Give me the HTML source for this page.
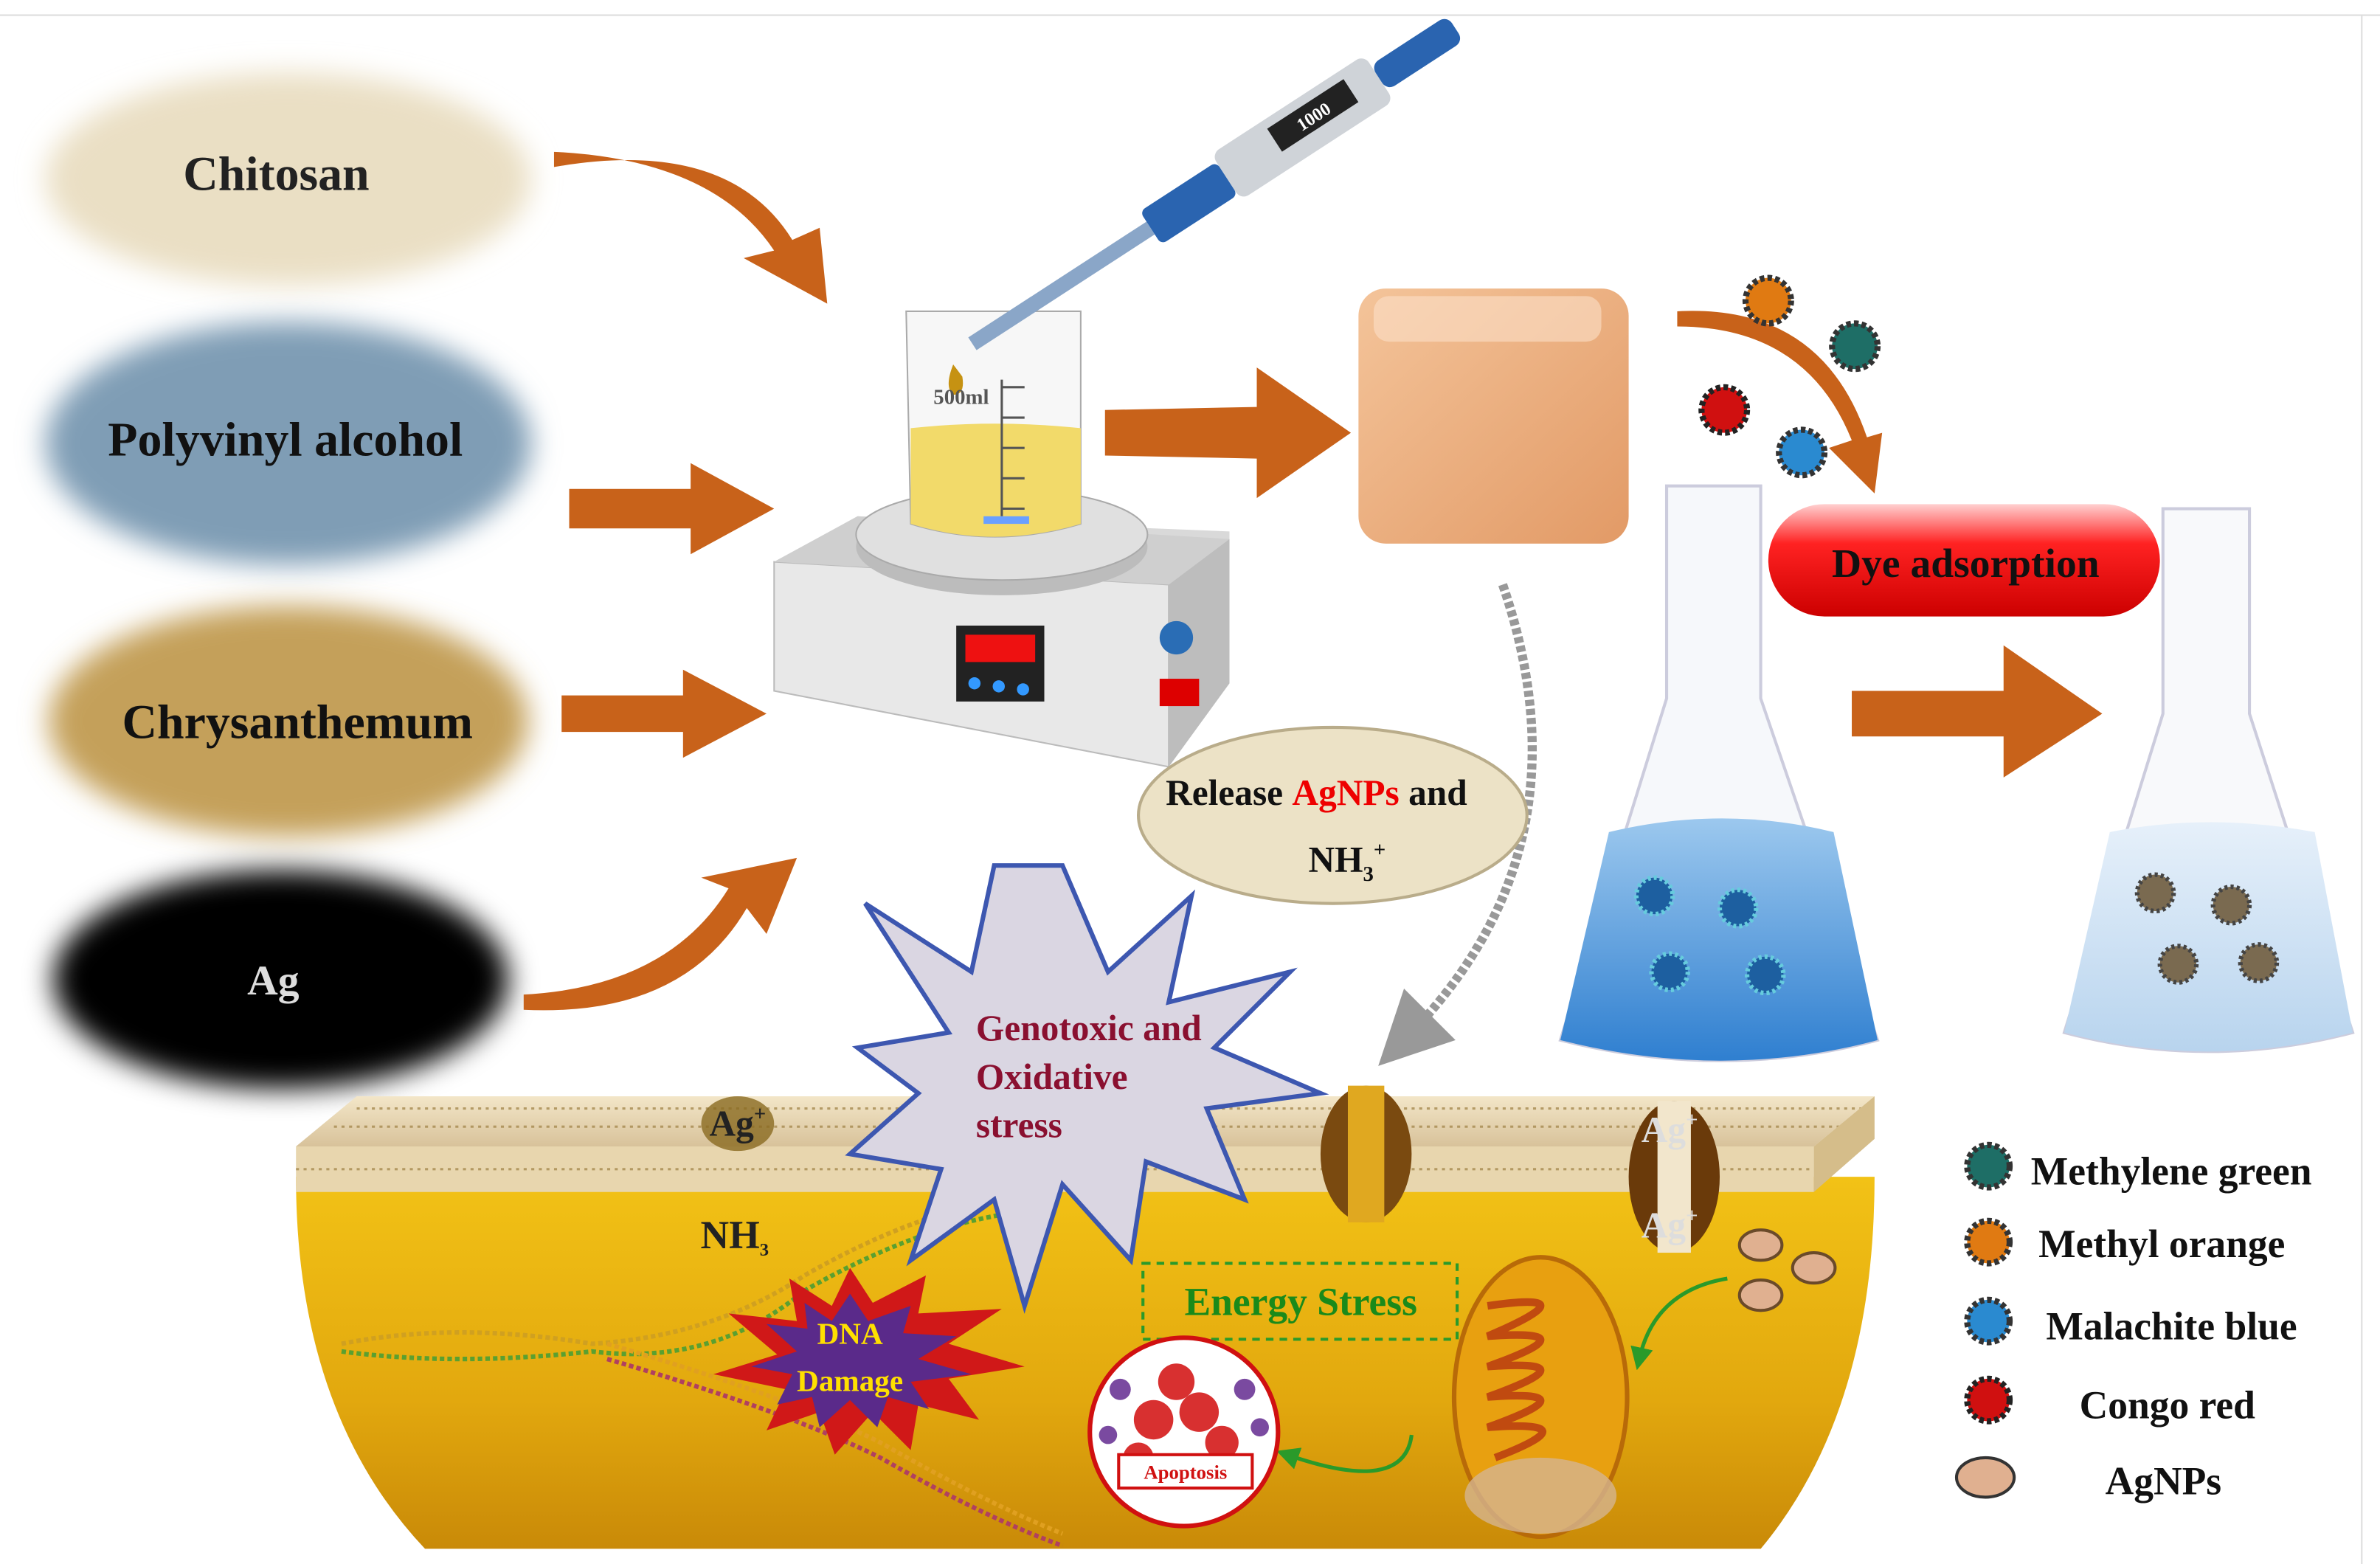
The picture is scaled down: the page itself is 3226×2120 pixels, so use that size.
<!DOCTYPE html>
<html><head><meta charset="utf-8"><style>
html,body{margin:0;padding:0;background:#fff;width:3226px;height:2120px;overflow:hidden}
svg{display:block}
text{font-family:"Liberation Serif",serif;font-weight:bold}
</style></head><body>
<svg width="3226" height="2120" viewBox="0 0 1568 1030" preserveAspectRatio="none" xmlns="http://www.w3.org/2000/svg">
<defs>
<filter id="blur" x="-20%" y="-30%" width="140%" height="160%"><feGaussianBlur stdDeviation="9"/></filter>
<filter id="sb"><feGaussianBlur stdDeviation="2"/></filter>
<linearGradient id="bowl" x1="0" y1="0" x2="0" y2="1"><stop offset="0" stop-color="#f2c216"/><stop offset="0.6" stop-color="#e2a80e"/><stop offset="1" stop-color="#c98a08"/></linearGradient>
<linearGradient id="cube" x1="0" y1="0" x2="1" y2="1"><stop offset="0" stop-color="#f4c49a"/><stop offset="1" stop-color="#e29a66"/></linearGradient>
<linearGradient id="pill" x1="0" y1="0" x2="0" y2="1"><stop offset="0" stop-color="#ffd0d0"/><stop offset="0.35" stop-color="#f22"/><stop offset="1" stop-color="#c00"/></linearGradient>
<linearGradient id="blue" x1="0" y1="0" x2="0" y2="1"><stop offset="0" stop-color="#9cc8ee"/><stop offset="1" stop-color="#2f7fd0"/></linearGradient>
<linearGradient id="lblue" x1="0" y1="0" x2="0" y2="1"><stop offset="0" stop-color="#e6f0fa"/><stop offset="1" stop-color="#b8d4ee"/></linearGradient>
<linearGradient id="mem" x1="0" y1="0" x2="0" y2="1"><stop offset="0" stop-color="#f3e6c8"/><stop offset="1" stop-color="#d8c29a"/></linearGradient>
<marker id="ga" markerWidth="8" markerHeight="8" refX="4" refY="4" orient="auto"><path d="M0,0 L8,4 L0,8 Z" fill="#999"/></marker>
<marker id="gr" markerWidth="6" markerHeight="6" refX="3" refY="3" orient="auto"><path d="M0,0 L6,3 L0,6 Z" fill="#2a9a2a"/></marker>
</defs>
<rect x="0" y="0" width="1568" height="1030" fill="#fff"/>
<line x1="0" y1="10" x2="1568" y2="10" stroke="#ddd"/>
<line x1="1556" y1="10" x2="1556" y2="1030" stroke="#ddd"/>

<!-- source ellipses -->
<ellipse cx="190" cy="118" rx="160" ry="70" fill="#eadfc4" filter="url(#blur)"/>
<ellipse cx="190" cy="292" rx="160" ry="80" fill="#7f9db5" filter="url(#blur)"/>
<ellipse cx="190" cy="475" rx="158" ry="76" fill="#c4a05a" filter="url(#blur)"/>
<ellipse cx="185" cy="645" rx="150" ry="72" fill="#000" filter="url(#blur)"/>
<text x="182" y="125" font-size="32" text-anchor="middle" fill="#222">Chitosan</text>
<text x="188" y="300" font-size="32" text-anchor="middle" fill="#111">Polyvinyl alcohol</text>
<text x="196" y="486" font-size="32" text-anchor="middle" fill="#111">Chrysanthemum</text>
<text x="180" y="655" font-size="28" text-anchor="middle" fill="#ddd" font-weight="normal">Ag</text>

<!-- orange arrows -->
<g fill="#c8621a">
<path d="M365,100 Q470,105 510,165 L490,170 L545,200 L540,150 L522,158 Q480,90 365,110 Z"/>
<path d="M375,322 L455,322 L455,305 L510,335 L455,365 L455,348 L375,348 Z"/>
<path d="M370,458 L450,458 L450,441 L505,470 L450,499 L450,482 L370,482 Z"/>
<path d="M345,655 Q440,650 480,585 L462,578 L525,565 L505,615 L492,598 Q450,670 345,665 Z"/>
<path d="M728,270 L828,268 L828,242 L890,285 L828,328 L828,302 L728,300 Z"/>
<path d="M1220,455 L1320,455 L1320,425 L1385,470 L1320,512 L1320,485 L1220,485 Z"/>
<path d="M1105,215 Q1190,215 1220,290 L1205,295 L1235,325 L1240,285 L1230,288 Q1200,200 1105,205 Z"/>
</g>

<!-- stirrer -->
<polygon points="510,370 565,340 810,350 810,450 770,505 510,455" fill="#d9d9d9"/>
<polygon points="510,370 770,385 770,505 510,455" fill="#e8e8e8" stroke="#bbb"/>
<polygon points="770,385 810,355 810,450 770,505" fill="#bdbdbd"/>
<polygon points="510,370 565,340 810,355 770,385" fill="#cfcfcf"/>
<ellipse cx="660" cy="360" rx="96" ry="32" fill="#bcbcbc"/>
<ellipse cx="660" cy="352" rx="96" ry="30" fill="#e0e0e0" stroke="#aaa"/>
<rect x="630" y="412" width="58" height="50" fill="#222"/>
<rect x="636" y="418" width="46" height="18" fill="#e11"/>
<circle cx="642" cy="450" r="4" fill="#39f"/><circle cx="658" cy="452" r="4" fill="#39f"/><circle cx="674" cy="454" r="4" fill="#39f"/>
<circle cx="775" cy="420" r="11" fill="#2a6db5"/>
<rect x="764" y="447" width="26" height="18" fill="#d00"/>
<!-- beaker -->
<path d="M597,205 L712,205 L712,345 Q655,362 600,345 Z" fill="#f3f3f3" fill-opacity="0.7" stroke="#aaa"/>
<path d="M600,282 Q655,276 712,282 L712,345 Q655,362 600,345 Z" fill="#f2da6a"/>
<path d="M628,240 Q622,255 628,260 Q636,260 634,248 Z" fill="#c69212"/>
<text x="615" y="266" font-size="14" fill="#555" font-weight="normal">500ml</text>
<g stroke="#555" stroke-width="1.5"><line x1="660" y1="250" x2="660" y2="340"/><line x1="660" y1="255" x2="675" y2="255"/><line x1="660" y1="275" x2="675" y2="275"/><line x1="660" y1="295" x2="675" y2="295"/><line x1="660" y1="315" x2="675" y2="315"/><line x1="660" y1="335" x2="675" y2="335"/></g>
<rect x="648" y="340" width="30" height="5" fill="#6aa0ff"/>
<!-- pipette -->
<g transform="rotate(-33 810 120)">
<rect x="610" y="112" width="140" height="10" fill="#8aa6c8"/>
<rect x="750" y="104" width="60" height="26" rx="4" fill="#2a64b0"/>
<rect x="810" y="98" width="120" height="36" rx="6" fill="#cfd3d8"/>
<rect x="850" y="104" width="60" height="18" fill="#222"/>
<text x="880" y="118" font-size="12" fill="#fff" text-anchor="middle" font-weight="normal">1000</text>
<rect x="930" y="106" width="60" height="20" rx="6" fill="#2a64b0"/>
</g>
<!-- cube -->
<rect x="895" y="190" width="178" height="168" rx="18" fill="url(#cube)"/>
<rect x="905" y="195" width="150" height="30" rx="10" fill="#fbe0c8" opacity="0.6"/>

<!-- dyes -->
<g>
<circle cx="1165" cy="198" r="15" fill="#e07a12" stroke="#333" stroke-width="4" stroke-dasharray="3 2"/>
<circle cx="1222" cy="228" r="15" fill="#1e6e66" stroke="#333" stroke-width="4" stroke-dasharray="3 2"/>
<circle cx="1136" cy="270" r="15" fill="#d01010" stroke="#222" stroke-width="4" stroke-dasharray="3 2"/>
<circle cx="1187" cy="298" r="15" fill="#2a8ad0" stroke="#333" stroke-width="4" stroke-dasharray="3 2"/>
</g>
<!-- flask 1 -->
<path d="M1098,320 L1160,320 L1160,460 L1237,685 Q1135,712 1028,685 L1098,460 Z" fill="#f6f8fb" stroke="#ccd" stroke-width="2"/>
<path d="M1060,548 Q1135,530 1208,548 L1237,685 Q1135,712 1028,685 Z" fill="url(#blue)"/>
<g fill="#1d5fa0" stroke="#6cd" stroke-width="3" stroke-dasharray="2 2">
<circle cx="1090" cy="590" r="12"/><circle cx="1145" cy="598" r="12"/><circle cx="1100" cy="640" r="12"/><circle cx="1163" cy="642" r="12"/></g>
<!-- flask 2 -->
<path d="M1425,335 L1482,335 L1482,470 L1550,680 Q1455,705 1360,680 L1425,470 Z" fill="#f8f9fb" stroke="#ccd" stroke-width="2"/>
<path d="M1390,548 Q1455,535 1525,548 L1550,680 Q1455,705 1360,680 Z" fill="url(#lblue)"/>
<g fill="#7a6a50" stroke="#444" stroke-width="3" stroke-dasharray="2 2">
<circle cx="1420" cy="588" r="12"/><circle cx="1470" cy="596" r="12"/><circle cx="1435" cy="635" r="12"/><circle cx="1488" cy="634" r="12"/></g>
<!-- dye adsorption -->
<rect x="1165" y="332" width="258" height="74" rx="37" fill="url(#pill)"/>
<text x="1295" y="380" font-size="27" text-anchor="middle" fill="#111">Dye  adsorption</text>

<!-- dashed gray arrow -->
<path d="M990,385 Q1050,560 925,685" fill="none" stroke="#999" stroke-width="6" stroke-dasharray="4 2" marker-end="url(#ga)"/>
<!-- release ellipse -->
<ellipse cx="878" cy="537" rx="128" ry="58" fill="#ece2c6" stroke="#b9ac8a" stroke-width="2"/>
<text x="768" y="530" font-size="24" fill="#111">Release <tspan fill="#e00">AgNPs</tspan> and</text>
<text x="862" y="574" font-size="24" fill="#111">NH<tspan font-size="14" dy="6">3</tspan><tspan font-size="14" dy="-16">+</tspan></text>

<!-- cell bowl -->
<path d="M195,775 L1235,775 Q1235,930 1160,1020 L280,1020 Q195,930 195,775 Z" fill="url(#bowl)"/>
<polygon points="195,755 235,722 1235,722 1195,755" fill="url(#mem)"/>
<rect x="195" y="755" width="1000" height="30" fill="#e8d6ae"/>
<g stroke="#a68a50" stroke-width="1.5" opacity="0.8">
<line x1="195" y1="770" x2="1195" y2="770" stroke-dasharray="2 3"/>
<line x1="235" y1="730" x2="1230" y2="730" stroke-dasharray="2 3"/>
<line x1="220" y1="742" x2="1215" y2="742" stroke-dasharray="2 3"/>
</g>
<polygon points="1195,755 1235,722 1235,750 1195,785" fill="#d5bd8a"/>
<!-- channels -->
<ellipse cx="900" cy="760" rx="30" ry="45" fill="#7a4a10"/>
<rect x="888" y="715" width="24" height="90" fill="#e0a820"/>
<ellipse cx="1103" cy="775" rx="30" ry="50" fill="#6a3a0a"/>
<rect x="1092" y="725" width="22" height="100" fill="#f2e6cc"/>
<text x="1100" y="752" font-size="24" fill="#ddd" text-anchor="middle">Ag<tspan font-size="14" dy="-10">+</tspan></text>
<text x="1100" y="815" font-size="24" fill="#ddd" text-anchor="middle">Ag<tspan font-size="14" dy="-10">+</tspan></text>
<ellipse cx="486" cy="740" rx="24" ry="18" fill="#8a6a20" opacity="0.8"/>
<text x="486" y="748" font-size="24" fill="#222" text-anchor="middle">Ag<tspan font-size="14" dy="-10">+</tspan></text>
<text x="484" y="822" font-size="26" fill="#222" text-anchor="middle">NH<tspan font-size="12" dy="5">3</tspan></text>

<!-- DNA strands -->
<g fill="none" stroke-width="3" stroke-dasharray="3 2">
<path d="M225,885 Q300,870 390,885 Q470,880 530,840 Q600,800 660,790" stroke="#d0a020"/>
<path d="M225,890 Q300,900 390,890 Q470,900 530,850 Q600,810 660,800" stroke="#5aa030"/>
<path d="M400,885 Q520,920 580,950 Q650,990 700,1010" stroke="#e0a020"/>
<path d="M400,895 Q520,930 580,960 Q650,1000 700,1018" stroke="#b04060"/>
</g>
<!-- DNA damage burst -->
<polygon points="560,835 575,858 610,840 605,865 660,862 625,885 675,900 625,908 645,935 605,925 600,955 575,930 550,958 540,930 505,942 518,915 470,905 512,892 480,865 525,870 520,842 548,860" fill="#d01818"/>
<polygon points="560,852 572,870 600,860 595,878 630,880 605,895 640,905 600,910 612,928 585,920 578,940 560,922 540,940 535,920 512,925 522,905 495,900 525,890 505,872 532,875 530,858 548,870" fill="#5a2a8a"/>
<text x="560" y="885" font-size="20" font-family="Liberation Sans, sans-serif" text-anchor="middle" fill="#ffe000">DNA</text>
<text x="560" y="916" font-size="20" font-family="Liberation Sans, sans-serif" text-anchor="middle" fill="#ffe000">Damage</text>

<!-- star -->
<polygon points="700,570 730,640 785,590 770,660 850,640 800,690 870,720 795,730 820,790 755,765 745,830 700,780 675,860 655,790 600,830 620,770 560,760 605,720 565,690 625,680 570,595 640,640 655,570" fill="#dad6e2" stroke="#3d57b0" stroke-width="3"/>
<text x="643" y="685" font-size="24" fill="#8a1030">Genotoxic and</text>
<text x="643" y="717" font-size="24" fill="#8a1030">Oxidative</text>
<text x="643" y="749" font-size="24" fill="#8a1030">stress</text>

<!-- energy stress -->
<rect x="753" y="832" width="207" height="50" fill="none" stroke="#2a9a2a" stroke-width="2" stroke-dasharray="5 4"/>
<text x="857" y="866" font-size="26" text-anchor="middle" fill="#1a8a1a">Energy Stress</text>
<!-- mitochondrion -->
<ellipse cx="1015" cy="920" rx="57" ry="92" fill="#e8a010" stroke="#b86a08" stroke-width="3"/>
<path d="M980,860 Q1050,850 980,880 Q1050,875 980,900 Q1050,895 980,920 Q1050,915 980,940 Q1050,935 985,960" fill="none" stroke="#c04a10" stroke-width="5"/>
<ellipse cx="1015" cy="985" rx="50" ry="25" fill="#d4b490" opacity="0.8"/>
<!-- AgNPs -->
<g fill="#e0b090" stroke="#6a4a2a" stroke-width="2">
<ellipse cx="1160" cy="820" rx="14" ry="10"/><ellipse cx="1195" cy="835" rx="14" ry="10"/><ellipse cx="1160" cy="853" rx="14" ry="10"/></g>
<path d="M1138,842 Q1090,850 1080,895" fill="none" stroke="#2a9a2a" stroke-width="2.5" marker-end="url(#gr)"/>
<path d="M930,945 Q925,985 848,958" fill="none" stroke="#2a9a2a" stroke-width="2.5" marker-end="url(#gr)"/>
<!-- apoptosis -->
<circle cx="780" cy="943" r="62" fill="#fff" stroke="#d01010" stroke-width="3"/>
<g fill="#d83030"><circle cx="760" cy="935" r="13"/><circle cx="790" cy="930" r="13"/><circle cx="775" cy="910" r="12"/><circle cx="805" cy="950" r="11"/><circle cx="750" cy="960" r="10"/></g>
<g fill="#7a4aa0"><circle cx="738" cy="915" r="7"/><circle cx="820" cy="915" r="7"/><circle cx="730" cy="945" r="6"/><circle cx="830" cy="940" r="6"/></g>
<rect x="737" y="958" width="88" height="22" fill="#fff" stroke="#d01010" stroke-width="2"/>
<text x="781" y="974" font-size="13" font-family="Liberation Sans, sans-serif" text-anchor="middle" fill="#d01010">Apoptosis</text>

<!-- legend -->
<g>
<circle cx="1310" cy="768" r="14" fill="#1e6e66" stroke="#333" stroke-width="4" stroke-dasharray="3 2"/>
<circle cx="1310" cy="818" r="14" fill="#e07a12" stroke="#333" stroke-width="4" stroke-dasharray="3 2"/>
<circle cx="1310" cy="870" r="14" fill="#2a8ad0" stroke="#333" stroke-width="4" stroke-dasharray="3 2"/>
<circle cx="1310" cy="922" r="14" fill="#d01010" stroke="#222" stroke-width="4" stroke-dasharray="3 2"/>
<ellipse cx="1308" cy="973" rx="19" ry="13" fill="#e0b090" stroke="#333" stroke-width="2"/>
</g>
<g font-size="26" fill="#111">
<text x="1338" y="780">Methylene green</text>
<text x="1343" y="828">Methyl orange</text>
<text x="1348" y="882">Malachite blue</text>
<text x="1370" y="934">Congo red</text>
<text x="1387" y="984">AgNPs</text>
</g>
</svg>
</body></html>
